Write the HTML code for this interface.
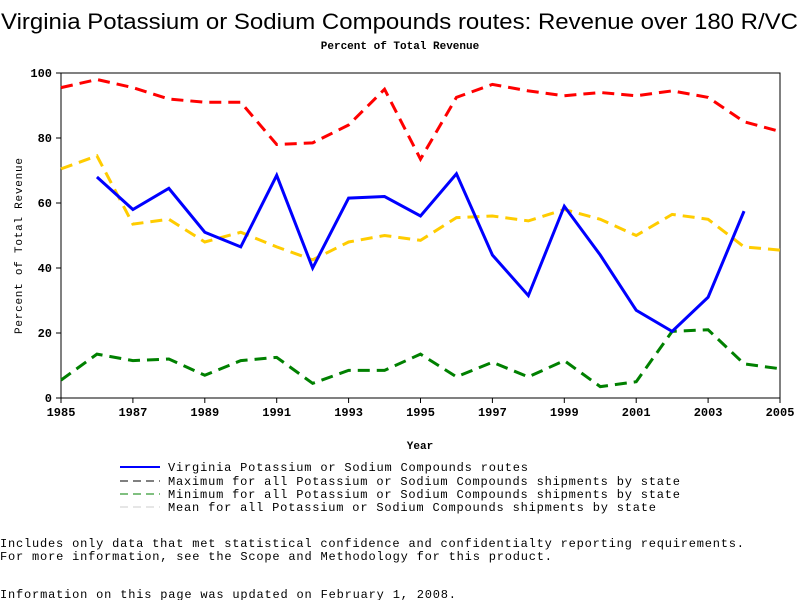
<!DOCTYPE html>
<html><head><meta charset="utf-8"><style>
body{margin:0;background:#fff;}
svg text{font-family:"Liberation Mono",monospace;}
</style></head><body>
<svg width="800" height="600" xmlns="http://www.w3.org/2000/svg">
<text x="1" y="29" textLength="797" lengthAdjust="spacingAndGlyphs" style="font-family:'Liberation Sans',sans-serif;font-size:22px">Virginia Potassium or Sodium Compounds routes: Revenue over 180 R/VC</text>
<text x="400" y="49" text-anchor="middle" font-size="11" font-weight="bold">Percent of Total Revenue</text>
<rect x="61" y="73" width="719" height="325" fill="none" stroke="#000"/>
<g id="ticks"></g>
<g id="series"></g>
<text x="0" y="0" transform="translate(22,334) rotate(-90)" textLength="176" font-size="11">Percent of Total Revenue</text>
<text x="420" y="449" text-anchor="middle" font-size="11" font-weight="bold">Year</text>
<g font-size="12">
<line x1="120" y1="467" x2="160" y2="467" stroke="#0000ff" stroke-width="2"/><text x="168" y="471" textLength="360">Virginia Potassium or Sodium Compounds routes</text>
<line x1="120" y1="481" x2="160" y2="481" stroke="#000" stroke-dasharray="8,5"/><text x="168" y="485" textLength="512">Maximum for all Potassium or Sodium Compounds shipments by state</text>
<line x1="120" y1="494" x2="160" y2="494" stroke="#008000" stroke-dasharray="8,5"/><text x="168" y="498" textLength="512">Minimum for all Potassium or Sodium Compounds shipments by state</text>
<line x1="120" y1="507" x2="160" y2="507" stroke="#ccc" stroke-dasharray="8,5"/><text x="168" y="511" textLength="488">Mean for all Potassium or Sodium Compounds shipments by state</text>
</g>
<g font-size="12">
<text x="0" y="547" textLength="744">Includes only data that met statistical confidence and confidentialty reporting requirements.</text>
<text x="0" y="560" textLength="552">For more information, see the Scope and Methodology for this product.</text>
<text x="0" y="598" textLength="456">Information on this page was updated on February 1, 2008.</text>
</g>
</svg>
<script>
const years=[1985,1986,1987,1988,1989,1990,1991,1992,1993,1994,1995,1996,1997,1998,1999,2000,2001,2002,2003,2004,2005];
const virginia=[null,68,58,64.5,51,46.5,68.5,40,61.5,62,56,69,44,31.5,59,44,27,20.5,31,57.5,null];
const maxVals=[95.5,98,95.5,92,91,91,78,78.5,84,95,73.5,92.5,96.5,94.5,93,94,93,94.5,92.5,85,82];
const minVals=[5.5,13.5,11.5,12,7,11.5,12.5,4.5,8.5,8.5,13.5,6.5,11,6.5,11.5,3.5,5,20.5,21,10.5,9];
const meanVals=[70.5,74.5,53.5,55,48,51,46.5,42.5,48,50,48.5,55.5,56,54.5,58,55,50,56.5,55,46.5,45.5];
const yTicks=[0,20,40,60,80,100];
const xTicks=[1985,1987,1989,1991,1993,1995,1997,1999,2001,2003,2005];
const NS="http://www.w3.org/2000/svg";
const xs=y=>61+(y-1985)*719/20;
const ys=v=>398-v*3.25;
const tg=document.getElementById('ticks'),sg=document.getElementById('series');
yTicks.forEach(v=>{
 const l=document.createElementNS(NS,'line');
 
 
 l.setAttribute('x1',56);l.setAttribute('x2',61);l.setAttribute('y1',ys(v));l.setAttribute('y2',ys(v));l.setAttribute('stroke','#000');tg.appendChild(l);
 const t=document.createElementNS(NS,'text');
 
 
 t.setAttribute('x',52);t.setAttribute('y',ys(v)+4);t.setAttribute('text-anchor','end');t.setAttribute('font-size','12');t.setAttribute('font-weight','bold');t.textContent=v;tg.appendChild(t);
});
xTicks.forEach(v=>{
 const l=document.createElementNS(NS,'line');
 
 
 l.setAttribute('x1',xs(v));l.setAttribute('x2',xs(v));l.setAttribute('y1',398);l.setAttribute('y2',403);l.setAttribute('stroke','#000');tg.appendChild(l);
 const t=document.createElementNS(NS,'text');
 
 
 t.setAttribute('x',xs(v));t.setAttribute('y',416);t.setAttribute('text-anchor','middle');t.setAttribute('font-size','12');t.setAttribute('font-weight','bold');t.textContent=v;tg.appendChild(t);
});
function draw(vals,color,dash,name){
 let d='',pen=false;
 vals.forEach((v,i)=>{if(v==null){pen=false;return;}d+=(pen?'L':'M')+xs(years[i])+','+ys(v);pen=true;});
 const p=document.createElementNS(NS,'path');
 
 
 p.setAttribute('d',d);p.setAttribute('fill','none');p.setAttribute('stroke',color);p.setAttribute('stroke-width','3');
 if(dash)p.setAttribute('stroke-dasharray',dash);
 sg.appendChild(p);
}
draw(maxVals,'#ff0000','12,7','max-line');
draw(minVals,'#008000','12,7','min-line');
draw(meanVals,'#ffcc00','12,7','mean-line');
draw(virginia,'#0000ff',null,'virginia-line');
</script>
</body></html>
